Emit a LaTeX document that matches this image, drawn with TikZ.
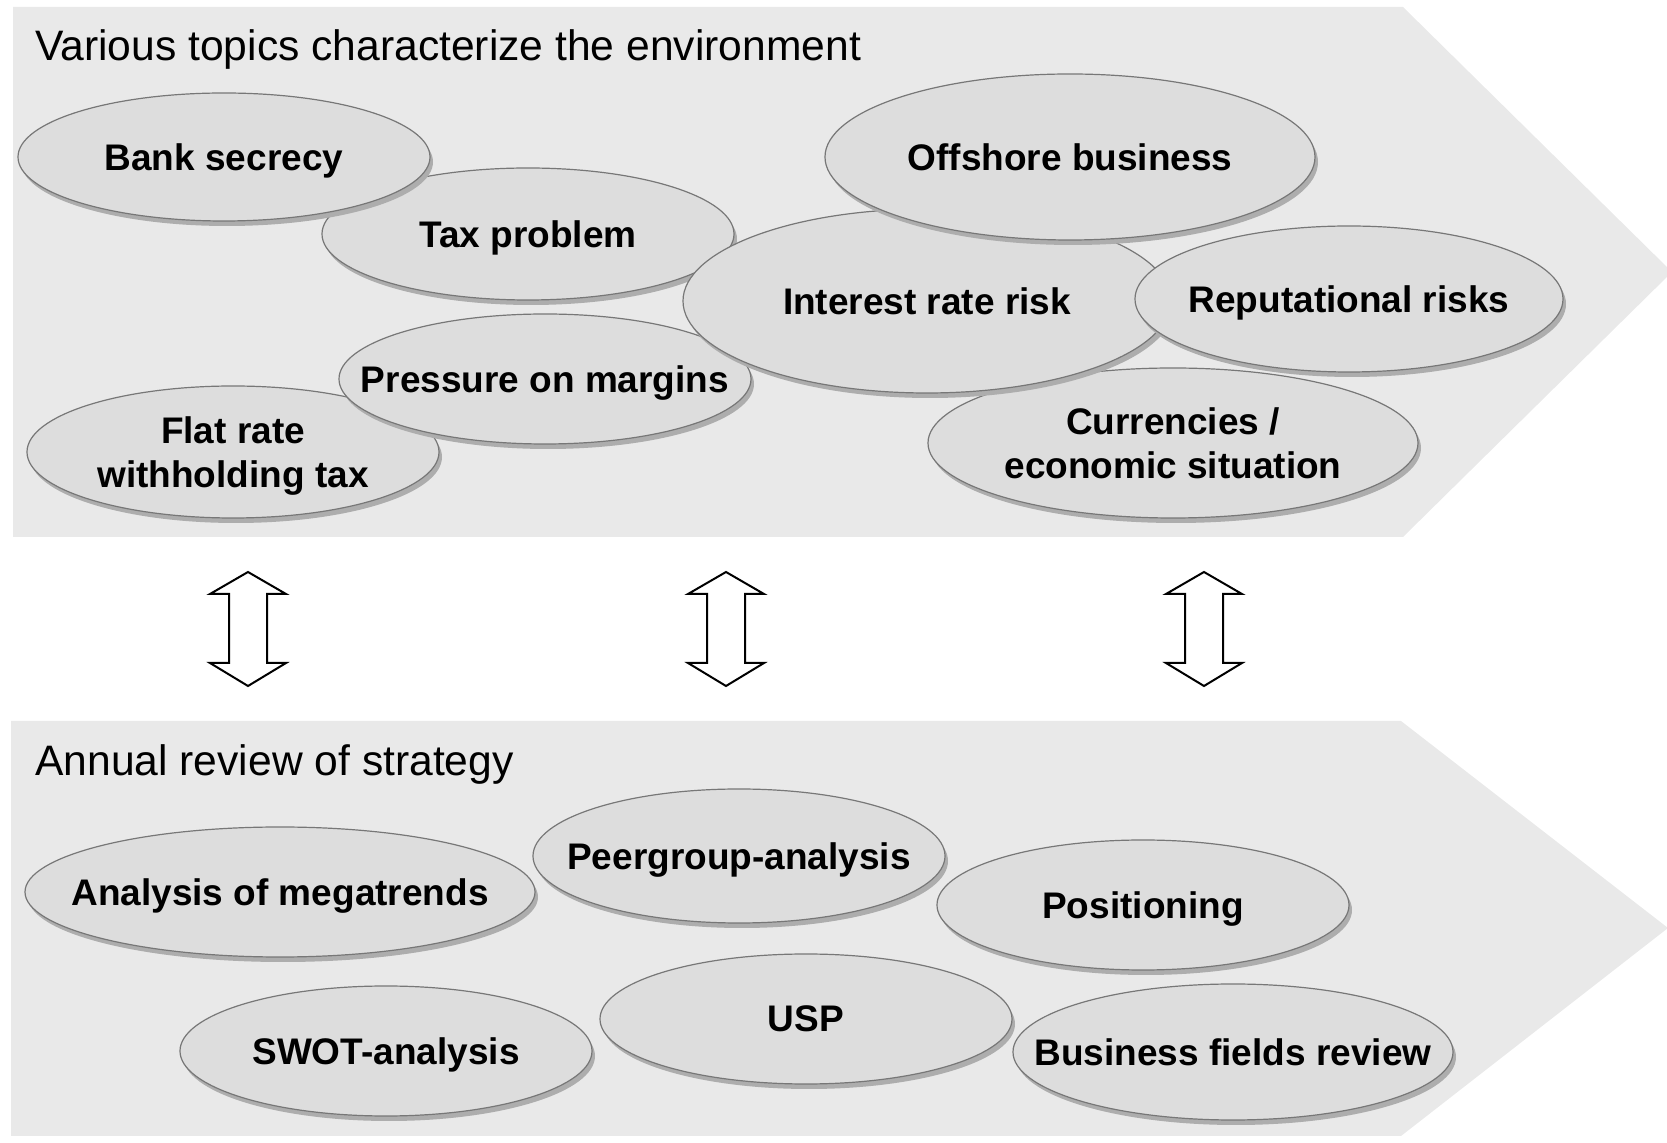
\documentclass[tikz,border=0pt]{standalone}
\usepackage{fontspec}
\setmainfont{Liberation Sans}
\usetikzlibrary{shapes.geometric,shadows}
\definecolor{gray1}{HTML}{E9E9E9}
\definecolor{gray2}{HTML}{DDDDDD}
\definecolor{gray3}{HTML}{ADADAD}
\definecolor{gray4}{HTML}{777777}

\begin{document}
\begin{tikzpicture}[x=0.5pt, y=-0.5pt, align=center,
  topic/.style={ellipse, draw=gray4, line width=0.6pt, fill=gray2,
    inner ysep=0pt, inner xsep=-60pt, text depth=0pt,
    font=\fontsize{18.5}{22}\selectfont\bfseries,
    drop shadow={shadow xshift=1.5pt, shadow yshift=-2.5pt, fill=gray3, opacity=1}},
  heading/.style={anchor=base west, inner sep=0pt, font=\fontsize{21.3}{25}\selectfont},
  updown/.style={draw=black, line width=1pt, fill=white, line join=miter}]
\useasboundingbox (0,0) rectangle (1667,1143);

% the two bands
\fill[gray1] (13,7) -- (1403,7) -- (1672,272) -- (1403,537) -- (13,537) -- cycle;
\fill[gray1] (11,721) -- (1401,721) -- (1668,928) -- (1401,1136) -- (11,1136) -- cycle;

\node[heading] (envtitle) at (35,61) {Various topics characterize the environment};
\node[heading] (strattitle) at (35,776) {Annual review of strategy};

% environment topics
\node[topic, minimum width=206pt, minimum height=66pt] (tax) at (528,234) {Tax problem};
\node[topic, minimum width=206pt, minimum height=66pt] (flat) at (233,452) {Flat rate\\withholding tax};
\node[topic, minimum width=206pt, minimum height=65pt] (pressure) at (545,379) {Pressure on margins};
\node[topic, minimum width=245pt, minimum height=75pt] (curr) at (1173,443) {Currencies /\\economic situation};
\node[topic, minimum width=244pt, minimum height=92pt] (interest) at (927,301) {Interest rate risk};
\node[topic, minimum width=206pt, minimum height=64pt] (bank) at (224,157) {Bank secrecy};
\node[topic, minimum width=245pt, minimum height=83pt] (offshore) at (1070,157) {Offshore business};
\node[topic, minimum width=214pt, minimum height=73pt] (reput) at (1349,299) {Reputational risks};

% strategy topics
\node[topic, minimum width=255pt, minimum height=65pt] (mega) at (280,892) {Analysis of megatrends};
\node[topic, minimum width=206pt, minimum height=67pt] (peer) at (739,856) {Peergroup-analysis};
\node[topic, minimum width=206pt, minimum height=65pt] (pos) at (1143,905) {Positioning};
\node[topic, minimum width=206pt, minimum height=65pt] (swot) at (386,1051) {SWOT-analysis};
\node[topic, minimum width=206pt, minimum height=65pt] (usp) at (806,1019) {USP};
\node[topic, minimum width=220pt, minimum height=68pt] (fields) at (1233,1052) {Business fields review};

% block arrows between the bands
\draw[updown, shift={(248,0)}] (0,572) -- (38,594) -- (19,594) -- (19,663) -- (38,663) -- (0,686)
  -- (-38,663) -- (-19,663) -- (-19,594) -- (-38,594) -- cycle;
\draw[updown, shift={(726,0)}] (0,572) -- (38,594) -- (19,594) -- (19,663) -- (38,663) -- (0,686)
  -- (-38,663) -- (-19,663) -- (-19,594) -- (-38,594) -- cycle;
\draw[updown, shift={(1204,0)}] (0,572) -- (38,594) -- (19,594) -- (19,663) -- (38,663) -- (0,686)
  -- (-38,663) -- (-19,663) -- (-19,594) -- (-38,594) -- cycle;
\end{tikzpicture}
\end{document}
